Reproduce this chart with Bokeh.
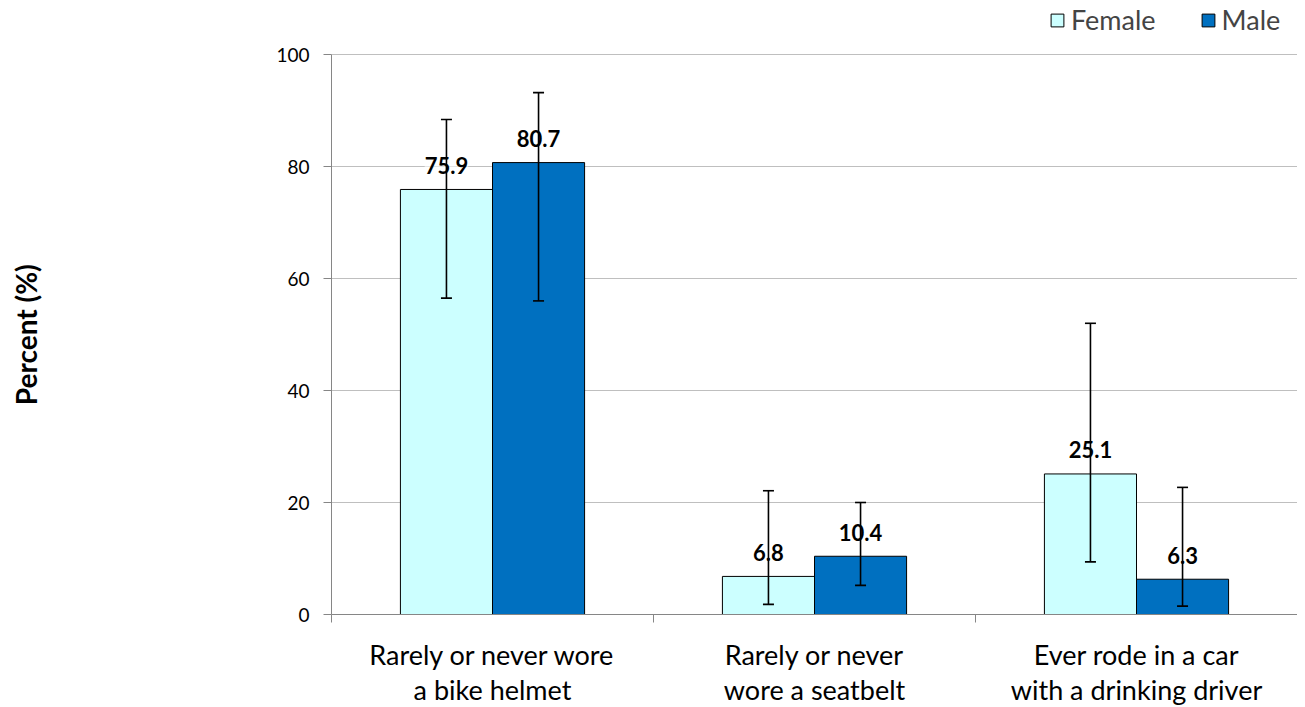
from bokeh.plotting import figure
from bokeh.models import (ColumnDataSource, Whisker, TeeHead, Legend, LegendItem,
                          FixedTicker, Range1d)
from bokeh.core.properties import value
from bokeh.embed import file_html
from bokeh.resources import INLINE

categories = ["Rarely or never wore\na bike helmet",
              "Rarely or never\nwore a seatbelt",
              "Ever rode in a car\nwith a drinking driver"]
series = ["Female", "Male"]
female = [75.9, 6.8, 25.1]
male = [80.7, 10.4, 6.3]
female_lower = [56.5, 1.8, 9.4]
female_upper = [88.4, 22.1, 52.0]
male_lower = [56.0, 5.2, 1.5]
male_upper = [93.2, 20.0, 22.7]
y_ticks = [0, 20, 40, 60, 80, 100]
y_title = "Percent (%)"

FONT = "Lato"
BAR_W = 0.286
colors = {"Female": "#CCFFFF", "Male": "#0070C0"}

centers = [i + 0.5 for i in range(len(categories))]

FRAME_H = 614          # frame from page top to the zero line
PX_PER_UNIT = 5.6
p = figure(frame_width=966, frame_height=FRAME_H, output_backend="svg",
           toolbar_location=None,
           x_range=Range1d(0, len(categories)),
           y_range=Range1d(0, FRAME_H / PX_PER_UNIT),
           min_border_left=331, min_border_right=0, min_border_top=0,
           min_border_bottom=0)
p.outline_line_color = None
p.background_fill_color = "white"
p.border_fill_color = "white"

renderers = {}
for name, vals, lo, hi, off in [("Female", female, female_lower, female_upper, -BAR_W / 2),
                                 ("Male", male, male_lower, male_upper, BAR_W / 2)]:
    xs = [c + off for c in centers]
    src = ColumnDataSource(dict(x=xs, top=vals, lower=lo, upper=hi,
                                label=[f"{v:.1f}" for v in vals]))
    r = p.vbar(x="x", top="top", width=BAR_W, source=src, fill_color=colors[name],
               line_color="black", line_width=1)
    renderers[name] = r

for name, vals, lo, hi, off in [("Female", female, female_lower, female_upper, -BAR_W / 2),
                                 ("Male", male, male_lower, male_upper, BAR_W / 2)]:
    xs = [c + off for c in centers]
    src = ColumnDataSource(dict(x=xs, top=vals, lower=lo, upper=hi,
                                label=[f"{v:.1f}" for v in vals]))
    w = Whisker(base="x", lower="lower", upper="upper", source=src,
                line_color="black", line_width=1.6, level="overlay",
                upper_head=TeeHead(size=11, line_color="black", line_width=1.6),
                lower_head=TeeHead(size=11, line_color="black", line_width=1.6))
    p.add_layout(w)

for name, vals, off in [("Female", female, -BAR_W / 2), ("Male", male, BAR_W / 2)]:
    xs = [c + off for c in centers]
    src = ColumnDataSource(dict(x=xs, top=vals, label=[f"{v:.1f}" for v in vals]))
    t = p.text(x="x", y="top", text="label", source=src, text_align="center",
               text_baseline="middle", y_offset=-24, text_font=value(FONT),
               text_font_style="bold", text_font_size="22px", text_color="black",
               background_fill_color="white", background_fill_alpha=0.6)
    t.level = "overlay"

# axes
p.yaxis.ticker = FixedTicker(ticks=y_ticks)
p.yaxis.bounds = (0, 100)
p.yaxis.axis_line_color = "#868686"
p.yaxis.major_tick_line_color = "#868686"
p.yaxis.major_tick_out = 8
p.yaxis.major_tick_in = 0
p.yaxis.minor_tick_line_color = None
p.yaxis.major_label_text_font = FONT
p.yaxis.major_label_text_font_size = "19px"
p.yaxis.major_label_text_color = "black"
p.yaxis.major_label_standoff = 14
# trailing no-break spaces centre the rotated title on the 0-100 span
p.yaxis.axis_label = y_title + "\u00a0" * 8
p.yaxis.axis_label_text_font = FONT
p.yaxis.axis_label_text_font_style = "bold"
p.yaxis.axis_label_text_font_size = "28px"
p.yaxis.axis_label_text_color = "black"
p.yaxis.axis_label_standoff = 230

p.xaxis.ticker = FixedTicker(ticks=centers, minor_ticks=list(range(len(categories) + 1)))
p.xaxis.major_label_overrides = {c: lab for c, lab in zip(centers, categories)}
p.xaxis.major_tick_line_color = None
p.xaxis.major_tick_out = 8
p.xaxis.major_tick_in = 0
p.xaxis.minor_tick_line_color = "#868686"
p.xaxis.minor_tick_out = 8
p.xaxis.minor_tick_in = 0
p.xaxis.axis_line_color = "#868686"
p.xaxis.major_label_text_font = FONT
p.xaxis.major_label_text_font_size = "27px"
p.xaxis.major_label_text_line_height = 1.08
p.xaxis.major_label_text_color = "black"
p.xaxis.major_label_standoff = 15

p.xgrid.grid_line_color = None
p.ygrid.ticker = FixedTicker(ticks=y_ticks)
p.ygrid.grid_line_color = "#BFBFBF"
p.ygrid.grid_line_width = 1

legend = Legend(items=[LegendItem(label=n, renderers=[renderers[n]]) for n in series],
                orientation="horizontal", location=(718, 578),
                label_text_font=FONT, label_text_font_size="27px",
                label_height=32, glyph_width=16, glyph_height=16, spacing=44,
                padding=0, margin=0, label_standoff=6, border_line_color=None,
                background_fill_alpha=0)
p.add_layout(legend)

open("out.html", "w").write(file_html(p, INLINE))
